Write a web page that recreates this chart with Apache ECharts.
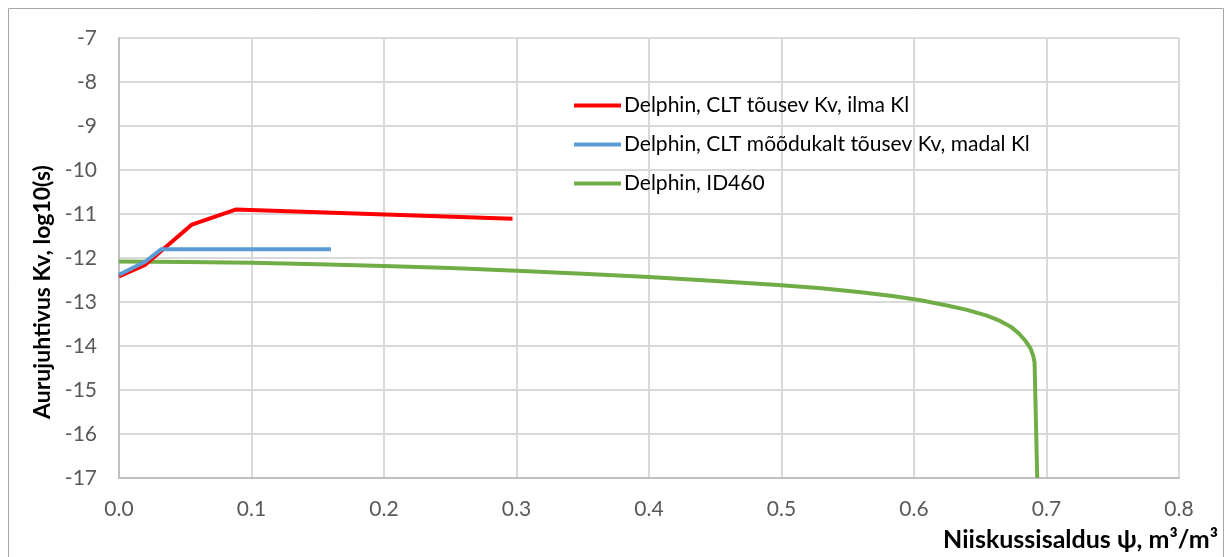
<!DOCTYPE html>
<html>
<head>
<meta charset="utf-8">
<script src="https://cdn.jsdelivr.net/npm/echarts@6/dist/echarts.min.js"></script>
<style>
  html, body { margin: 0; padding: 0; background: #fff; }
  #chart { width: 1227px; height: 557px; }
</style>
</head>
<body>
<div id="chart"></div>
<script>
// Moisture content (m³/m³) vs. log10 vapour permeability for three Delphin material models
const seriesNames = [
  'Delphin, CLT tõusev Kv, ilma Kl',
  'Delphin, CLT mõõdukalt tõusev Kv, madal Kl',
  'Delphin, ID460'
];

const redX = [0.000, 0.020, 0.055, 0.088, 0.297];
const redY = [-12.42, -12.15, -11.24, -10.90, -11.11];

const blueX = [0.000, 0.020, 0.032, 0.160];
const blueY = [-12.38, -12.08, -11.80, -11.80];

const greenX = [0.000, 0.050, 0.100, 0.150, 0.200, 0.250, 0.300, 0.350, 0.400, 0.450,
                0.500, 0.530, 0.560, 0.585, 0.605, 0.625, 0.640, 0.655, 0.665, 0.673,
                0.679, 0.684, 0.688, 0.690, 0.691, 0.693];
const greenY = [-12.08, -12.09, -12.11, -12.14, -12.18, -12.23, -12.29, -12.36, -12.43, -12.52,
                -12.62, -12.69, -12.78, -12.87, -12.96, -13.08, -13.18, -13.31, -13.43, -13.56,
                -13.71, -13.88, -14.06, -14.22, -14.38, -17.00];

const xTicks = [0, 0.1, 0.2, 0.3, 0.4, 0.5, 0.6, 0.7, 0.8];
const yTicks = [-17, -16, -15, -14, -13, -12, -11, -10, -9, -8, -7];

const xTitle = 'Niiskussisaldus ψ, m³/m³';
const yTitle = 'Aurujuhtivus Kv, log10(s)';

const colors = ['#FF0000', '#5B9BD5', '#70AD47'];
const font = 'Lato, "Open Sans", "DejaVu Sans", sans-serif';

const pairs = (xs, ys) => xs.map((x, i) => [x, ys[i]]);

const chart = echarts.init(document.getElementById('chart'), null, { renderer: 'canvas' });

chart.setOption({
  animation: false,
  backgroundColor: '#fff',
  grid: { left: 119, right: 48, top: 38, bottom: 79, containLabel: false },
  xAxis: {
    type: 'value',
    min: xTicks[0],
    max: xTicks[xTicks.length - 1],
    interval: 0.1,
    axisLine: { show: true, lineStyle: { color: '#BFBFBF', width: 2 } },
    axisTick: { show: false },
    splitLine: { show: true, lineStyle: { color: '#D9D9D9', width: 2 } },
    axisLabel: {
      color: '#595959', fontFamily: font, fontSize: 21, margin: 21,
      formatter: v => v.toFixed(1)
    }
  },
  yAxis: {
    type: 'value',
    min: yTicks[0],
    max: yTicks[yTicks.length - 1],
    interval: 1,
    axisLine: { show: true, onZero: false, lineStyle: { color: '#BFBFBF', width: 2 } },
    axisTick: { show: false },
    splitLine: { show: true, lineStyle: { color: '#D9D9D9', width: 2 } },
    axisLabel: { color: '#595959', fontFamily: font, fontSize: 21, margin: 22 }
  },
  legend: {
    orient: 'vertical',
    left: 569,
    top: 90,
    itemWidth: 47,
    itemHeight: 4,
    itemGap: 18,
    icon: 'rect',
    textStyle: { color: '#000', fontFamily: font, fontSize: 21, padding: [0, 0, 0, -2] },
    data: seriesNames
  },
  graphic: [
    {
      type: 'rect',
      shape: { x: 8.5, y: 8.5, width: 1215, height: 560 },
      style: { fill: null, stroke: '#A6A6A6', lineWidth: 1 },
      silent: true, z: -1
    },
    {
      type: 'text',
      x: 43,
      y: 292,
      rotation: Math.PI / 2,
      style: {
        text: yTitle,
        fill: '#000', font: 'bold 23px ' + font,
        align: 'center', verticalAlign: 'middle'
      }
    },
    {
      type: 'text',
      right: 9,
      top: 527,
      style: {
        text: xTitle,
        fill: '#000', font: 'bold 25px ' + font
      }
    }
  ],
  series: [
    {
      name: seriesNames[0], type: 'line', data: pairs(redX, redY),
      showSymbol: false, symbol: 'none', color: colors[0],
      lineStyle: { color: colors[0], width: 4 }, z: 3
    },
    {
      name: seriesNames[1], type: 'line', data: pairs(blueX, blueY),
      showSymbol: false, symbol: 'none', color: colors[1],
      lineStyle: { color: colors[1], width: 4 }, z: 4
    },
    {
      name: seriesNames[2], type: 'line', data: pairs(greenX, greenY),
      showSymbol: false, symbol: 'none', color: colors[2],
      lineStyle: { color: colors[2], width: 4, join: 'round' }, z: 2
    }
  ]
});
</script>
</body>
</html>
